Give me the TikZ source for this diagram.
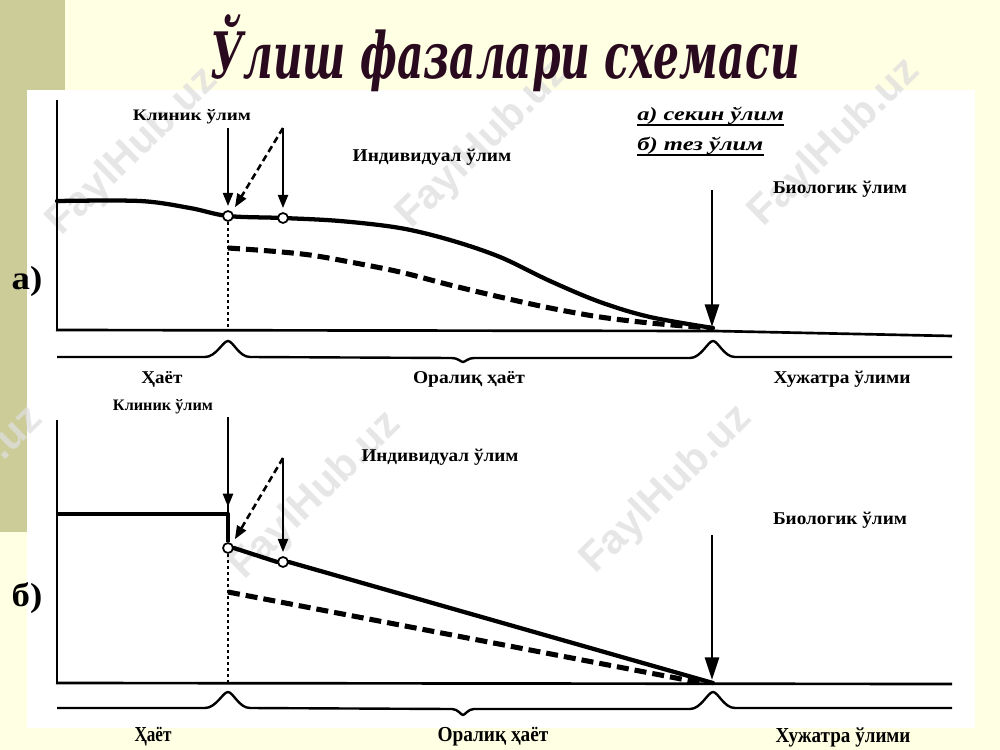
\documentclass[tikz,border=0pt]{standalone}
\usepackage{fontspec}
\usepackage{graphicx}
\setmainfont{Liberation Serif}
\newfontfamily\ttlfont{DejaVu Serif}
\newfontfamily\wmfont{Liberation Sans}
\usetikzlibrary{arrows.meta}
\definecolor{cream}{HTML}{FFFFE3}
\definecolor{khaki}{HTML}{CCCC99}
\definecolor{ttlcol}{HTML}{2A0A1F}
\newcommand\fw[2]{\resizebox{#1pt}{\height}{#2}}
\begin{document}
\begin{tikzpicture}[x=0.75pt,y=-0.75pt,
  curve/.style={line width=3.2pt,line join=round,line cap=round},
  dcurve/.style={line width=3.8pt,dash pattern=on 9pt off 4.5pt},
  vdot/.style={line width=0.8pt,dash pattern=on 2.5pt off 2pt},
  axisln/.style={line width=1.6pt},
  baseln/.style={line width=2pt},
  tl/.style={line width=1.8pt,line join=round},
  arr/.style={line width=1.9pt,-{Triangle[length=10pt,width=7.5pt]}},
  darr/.style={line width=1.9pt,dash pattern=on 5pt off 3pt,-{Triangle[length=10pt,width=7.5pt]}},
  bigarr/.style={line width=2.1pt,-{Triangle[length=17pt,width=10.5pt]}},
  opendot/.style={circle,draw,fill=white,line width=1.3pt,inner sep=0pt,minimum size=7.5pt},
  lbl/.style={font=\bfseries\fontsize{13.5}{15}\selectfont,inner sep=0pt},
  slbl/.style={font=\bfseries\fontsize{12}{14}\selectfont,inner sep=0pt},
  blbl/.style={font=\bfseries\fontsize{16}{18}\selectfont,inner sep=0pt},
  ulbl/.style={font=\bfseries\itshape\fontsize{14}{16}\selectfont,inner sep=0pt,anchor=base west},
  plbl/.style={font=\bfseries\fontsize{25}{27}\selectfont,inner sep=0pt},
  wm/.style={font=\wmfont\bfseries\fontsize{31}{31}\selectfont,text=black!13,rotate=44.5,opacity=0.75,inner sep=0pt}
]
\useasboundingbox (0,0) rectangle (1000,750);
% backgrounds
\fill[cream] (0,0) rectangle (1000,750);
\fill[khaki] (0,0) rectangle (65,532);
\fill[white] (27,90) rectangle (975,728);
% watermarks
\node[wm] (wm1) at (133,152) {FaylHub.uz};
\node[wm] (wm2) at (483,145) {FaylHub.uz};
\node[wm] (wm3) at (835,143) {FaylHub.uz};
\node[wm] (wm4) at (-42,491) {FaylHub.uz};
\node[wm] (wm5) at (316,496) {FaylHub.uz};
\node[wm] (wm6) at (667,490) {FaylHub.uz};
% title
\node[anchor=base,inner sep=0pt,text=ttlcol,font=\ttlfont\bfseries\itshape\fontsize{48}{48}\selectfont] (title) at (505,78) {\resizebox{442pt}{\height}{Ўлиш фазалари схемаси}};

% ================= panel a =================
\node[plbl] (pa) at (27,281) {\fw{23}{а)}};
\draw[axisln] (57,100) -- (57,330);
\draw[baseln] (56,330) -- (715,331) -- (952,336);
% curves
\draw[curve] plot[smooth,tension=0.55] coordinates {(57,201) (140,201) (190,208) (228,216) (283,218) (340,221) (400,228) (450,240) (500,257) (550,281) (600,302) (650,317) (713,328)};
\draw[dcurve] plot[smooth,tension=0.55] coordinates {(228,248) (270,251) (310,255) (350,262) (400,272) (450,285) (500,297) (550,308) (600,317) (650,323) (710,328)};
\node[opendot] (ca1) at (228,216) {};
\node[opendot] (ca2) at (283,218) {};
\coordinate (ba0) at (228,330);
\draw[vdot] (ca1.south) -- (ba0);
% arrows
\coordinate (ta1) at (228,128);
\coordinate (ta2) at (283,128);
\draw[arr,shorten >=3pt] (ta1) -- (ca1.north);
\draw[arr,shorten >=3pt] (ta2) -- (ca2.north);
\draw[darr,shorten >=4pt] (ta2) -- (ca1.north east);
\coordinate (tbio) at (712,190);
\coordinate (bbio) at (712,327);
\draw[bigarr] (tbio) -- (bbio);
% timeline a
\draw[tl] (57,357) -- (205,357) .. controls (216,357) and (223,341) .. (228,341) .. controls (233,341) and (239,357) .. (250,357) -- (452,358) .. controls (458,358) and (461,362) .. (463,362) .. controls (465,362) and (468,358) .. (474,358) -- (690,358) .. controls (701,358) and (708,341) .. (713,341) .. controls (718,341) and (724,357) .. (735,357) -- (952,357);
% labels a
\node[slbl] (kla) at (192,117) {\fw{88.5}{Клиник ўлим}};
\node[lbl] (ina) at (432,157) {\fw{119}{Индивидуал ўлим}};
\node[lbl] (bia) at (840,189) {\fw{100.5}{Биологик ўлим}};
\node[ulbl] (ua) at (637,120) {\fw{110}{а) секин ўлим}};
\node[ulbl] (ub) at (637,150) {\fw{94.5}{б) тез ўлим}};
\draw[line width=1.5pt] ([yshift=-4pt]ua.base west) -- ([yshift=-4pt]ua.base east);
\draw[line width=1.5pt] ([yshift=-4pt]ub.base west) -- ([yshift=-4pt]ub.base east);
\node[lbl] (ha) at (162,379) {\fw{30.75}{Ҳаёт}};
\node[lbl] (oa) at (469,379) {\fw{84}{Оралиқ ҳаёт}};
\node[lbl] (xa) at (842,379) {\fw{102.75}{Хужатра ўлими}};

% ================= panel b =================
\node[plbl] (pb) at (27,598) {\fw{23}{б)}};
\draw[axisln] (57,420) -- (57,683);
\draw[baseln] (56,683) -- (952,684);
\node[opendot] (cb1) at (228,548) {};
\node[opendot] (cb2) at (283,562) {};
\coordinate (lb0) at (57,514);
\coordinate (lb1) at (228,514);
\coordinate (ebio) at (713,683);
\draw[curve,line cap=butt] (lb0) -- (lb1) -- (cb1.north);
\draw[curve] (cb1.east) -- (cb2.west);
\draw[curve] (cb2.east) -- (ebio);
\coordinate (db0) at (228,592);
\coordinate (db1) at (702,683);
\draw[dcurve] (db0) -- (db1);
\coordinate (bb0) at (228,683);
\draw[vdot] (cb1.south) -- (bb0);
\coordinate (tb1) at (228,417);
\coordinate (tb2) at (283,458);
\coordinate (hb1) at (228,507);
\draw[line width=1.9pt] (tb1) -- (lb1);
\draw[arr] (tb1) -- (hb1);
\draw[arr,shorten >=3pt] (tb2) -- (cb2.north);
\draw[darr,shorten >=4pt] (tb2) -- (cb1.north east);
\coordinate (tbio2) at (712,535);
\coordinate (bbio2) at (712,680);
\draw[bigarr] (tbio2) -- (bbio2);
% timeline b
\draw[tl] (57,708) -- (205,708) .. controls (216,708) and (223,692) .. (228,692) .. controls (233,692) and (239,708) .. (250,708) -- (452,709) .. controls (458,709) and (461,715) .. (463,715) .. controls (465,715) and (468,709) .. (474,709) -- (690,709) .. controls (701,709) and (708,692) .. (713,692) .. controls (718,692) and (724,708) .. (735,708) -- (952,708);
% labels b
\node[slbl] (klb) at (163,407) {\fw{75}{Клиник ўлим}};
\node[lbl] (inb) at (440,457) {\fw{117.75}{Индивидуал ўлим}};
\node[lbl] (bib) at (840,520) {\fw{100.5}{Биологик ўлим}};
\node[blbl] (hb) at (153,737) {\fw{27.75}{Ҳаёт}};
\node[blbl] (ob) at (493,737) {\fw{83.25}{Оралиқ ҳаёт}};
\node[blbl] (xb) at (843,737) {\fw{101.25}{Хужатра ўлими}};
\end{tikzpicture}
\end{document}
